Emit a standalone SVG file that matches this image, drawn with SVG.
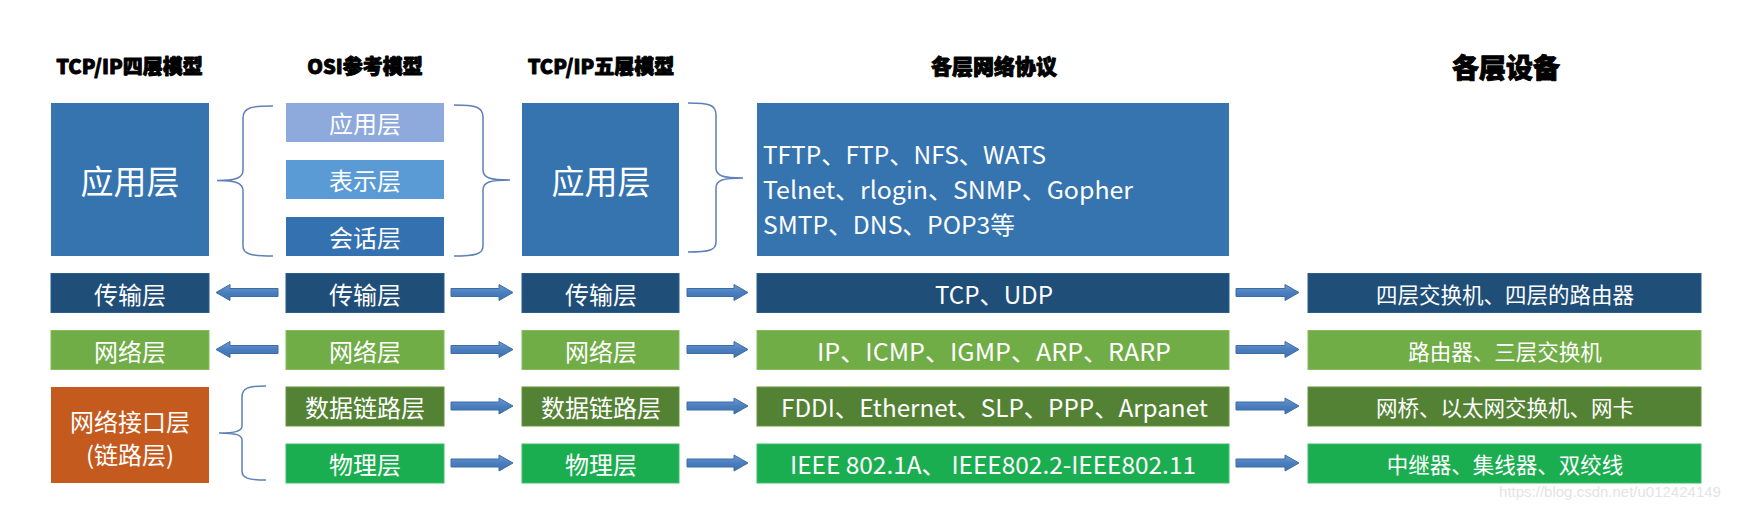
<svg xmlns="http://www.w3.org/2000/svg" width="1746" height="522" viewBox="0 0 1746 522">
<defs>
<linearGradient id="ag" x1="0" y1="0" x2="0" y2="1">
<stop offset="0" stop-color="#6D9BD2"/>
<stop offset="0.5" stop-color="#4A7EBE"/>
<stop offset="1" stop-color="#3F71AE"/>
</linearGradient>
<style>
.hd{font-family:"Noto Sans CJK SC","DejaVu Sans",sans-serif;font-weight:900;fill:#000;stroke:#000;stroke-width:0.9;stroke-linejoin:round;text-anchor:middle;dominant-baseline:central}
.t{font-family:"Noto Sans CJK SC","Noto Sans",sans-serif;fill:#fff;text-anchor:middle;dominant-baseline:central}
.tl{font-family:"Noto Sans CJK SC","Noto Sans",sans-serif;fill:#fff;dominant-baseline:central;font-size:24px}
.s24{font-size:24px}
.s33{font-size:33px}
.s22{font-size:21.5px}
.app{fill:#3674B0}
.osi1{fill:#8EA9DB}
.osi2{fill:#5B9BD5}
.osi3{fill:#3371B0}
.tr{fill:#1F4E79;stroke:#2B5C8A;stroke-width:1}
.nw{fill:#70AD47;stroke:#84BD5E;stroke-width:1}
.dl{fill:#548235;stroke:#66943F;stroke-width:1}
.ph{fill:#1BAE50;stroke:#3EBE6A;stroke-width:1}
.ni{fill:#C55A1E}
.arr{fill:url(#ag);stroke:#3E6DA6;stroke-width:1}
.br{fill:none;stroke:#5E7FB8;stroke-width:1.5}
</style>
</defs>
<rect width="1746" height="522" fill="#fff"/>

<g id="headers">
<text class="hd" x="129.5" y="65" font-size="20">TCP/IP四层模型</text>
<text class="hd" x="365" y="65" font-size="20">OSI参考模型</text>
<text class="hd" x="601" y="65" font-size="20">TCP/IP五层模型</text>
<text class="hd" x="994" y="65" font-size="21">各层网络协议</text>
<text class="hd" x="1506" y="66" font-size="27">各层设备</text>
</g>

<g id="tcp4-app"><rect class="app" x="51" y="103" width="158" height="153"/><text class="t s33" x="130" y="180">应用层</text></g>
<g id="tcp4-transport"><rect class="tr" x="51" y="273.5" width="158" height="39"/><text class="t s24" x="130" y="293">传输层</text></g>
<g id="tcp4-network"><rect class="nw" x="51" y="330.5" width="158" height="39"/><text class="t s24" x="130" y="350">网络层</text></g>
<g id="tcp4-netif"><rect class="ni" x="51" y="387" width="158" height="96"/><text class="t s24" x="130" y="420">网络接口层</text><text class="t s24" x="130" y="453">(链路层)</text></g>

<g id="osi-app"><rect class="osi1" x="286" y="103" width="158" height="39"/><text class="t s24" x="365" y="122.5">应用层</text></g>
<g id="osi-pres"><rect class="osi2" x="286" y="160" width="158" height="39"/><text class="t s24" x="365" y="179.5">表示层</text></g>
<g id="osi-sess"><rect class="osi3" x="286" y="217" width="158" height="39"/><text class="t s24" x="365" y="236.5">会话层</text></g>
<g id="osi-transport"><rect class="tr" x="286" y="273.5" width="158" height="39"/><text class="t s24" x="365" y="293">传输层</text></g>
<g id="osi-network"><rect class="nw" x="286" y="330.5" width="158" height="39"/><text class="t s24" x="365" y="350">网络层</text></g>
<g id="osi-datalink"><rect class="dl" x="286" y="387" width="158" height="39"/><text class="t s24" x="365" y="406.5">数据链路层</text></g>
<g id="osi-physical"><rect class="ph" x="286" y="444" width="158" height="39"/><text class="t s24" x="365" y="463.5">物理层</text></g>

<g id="tcp5-app"><rect class="app" x="522" y="103" width="157" height="153"/><text class="t s33" x="601" y="180">应用层</text></g>
<g id="tcp5-transport"><rect class="tr" x="522" y="273.5" width="157" height="39"/><text class="t s24" x="601" y="293">传输层</text></g>
<g id="tcp5-network"><rect class="nw" x="522" y="330.5" width="157" height="39"/><text class="t s24" x="601" y="350">网络层</text></g>
<g id="tcp5-datalink"><rect class="dl" x="522" y="387" width="157" height="39"/><text class="t s24" x="601" y="406.5">数据链路层</text></g>
<g id="tcp5-physical"><rect class="ph" x="522" y="444" width="157" height="39"/><text class="t s24" x="601" y="463.5">物理层</text></g>

<g id="proto-app"><rect class="app" x="757" y="103" width="472" height="153"/>
<text class="tl" x="763" y="153" textLength="283" lengthAdjust="spacingAndGlyphs">TFTP、FTP、NFS、WATS</text>
<text class="tl" x="763" y="188" textLength="370" lengthAdjust="spacingAndGlyphs">Telnet、rlogin、SNMP、Gopher</text>
<text class="tl" x="763" y="223" textLength="252" lengthAdjust="spacingAndGlyphs">SMTP、DNS、POP3等</text>
</g>
<g id="proto-transport"><rect class="tr" x="757" y="273.5" width="472" height="39"/><text class="t s24" x="994" y="293" textLength="118" lengthAdjust="spacingAndGlyphs">TCP、UDP</text></g>
<g id="proto-network"><rect class="nw" x="757" y="330.5" width="472" height="39"/><text class="t s24" x="994" y="350" textLength="354" lengthAdjust="spacingAndGlyphs">IP、ICMP、IGMP、ARP、RARP</text></g>
<g id="proto-datalink"><rect class="dl" x="757" y="387" width="472" height="39"/><text class="t s24" x="994.5" y="406.5" textLength="427" lengthAdjust="spacingAndGlyphs">FDDI、Ethernet、SLP、PPP、Arpanet</text></g>
<g id="proto-physical"><rect class="ph" x="757" y="444" width="472" height="39"/><text class="t s24" x="993" y="463.5" textLength="406" lengthAdjust="spacingAndGlyphs">IEEE 802.1A、 IEEE802.2-IEEE802.11</text></g>

<g id="dev-transport"><rect class="tr" x="1308" y="273.5" width="393" height="39"/><text class="t s22" x="1505" y="293">四层交换机、四层的路由器</text></g>
<g id="dev-network"><rect class="nw" x="1308" y="330.5" width="393" height="39"/><text class="t s22" x="1505" y="350">路由器、三层交换机</text></g>
<g id="dev-datalink"><rect class="dl" x="1308" y="387" width="393" height="39"/><text class="t s22" x="1505" y="406.5">网桥、以太网交换机、网卡</text></g>
<g id="dev-physical"><rect class="ph" x="1308" y="444" width="393" height="39"/><text class="t s22" x="1505" y="463.5">中继器、集线器、双绞线</text></g>

<g id="connectors">
<path class="br" d="M273,106 C250,106 243,108 243,118 L243,170 C243,178 236,180.5 217,180.5 C236,180.5 243,183 243,191 L243,246 C243,254 250,256 273,256"/>
<path class="br" d="M454,105 C476,105 483,107 483,117 L483,170 C483,178 490,180 510,180 C490,180 483,182 483,190 L483,246 C483,254 476,256 454,256"/>
<path class="br" d="M688,103 C710,103 716,105 716,115 L716,168 C716,176 723,178 743,178 C723,178 716,180 716,188 L716,242 C716,250 710,252 688,252"/>
<path class="br" d="M266,386 C248,386 242,388 242,397 L242,426 C242,431 236,433 219,433 C236,433 242,435 242,440 L242,471 C242,478 248,480 266,480"/>

<path class="arr" d="M278,288.5 L230,288.5 L230,284.5 L216,292.5 L230,300.5 L230,296.5 L278,296.5 Z"/>
<path class="arr" d="M278,345.5 L230,345.5 L230,341.5 L216,349.5 L230,357.5 L230,353.5 L278,353.5 Z"/>

<path class="arr" d="M451,288.5 L499,288.5 L499,284.5 L513,292.5 L499,300.5 L499,296.5 L451,296.5 Z"/>
<path class="arr" d="M451,345.5 L499,345.5 L499,341.5 L513,349.5 L499,357.5 L499,353.5 L451,353.5 Z"/>
<path class="arr" d="M451,402 L499,402 L499,398 L513,406 L499,414 L499,410 L451,410 Z"/>
<path class="arr" d="M451,459 L499,459 L499,455 L513,463 L499,471 L499,467 L451,467 Z"/>

<path class="arr" d="M687,288.5 L734,288.5 L734,284.5 L748,292.5 L734,300.5 L734,296.5 L687,296.5 Z"/>
<path class="arr" d="M687,345.5 L734,345.5 L734,341.5 L748,349.5 L734,357.5 L734,353.5 L687,353.5 Z"/>
<path class="arr" d="M687,402 L734,402 L734,398 L748,406 L734,414 L734,410 L687,410 Z"/>
<path class="arr" d="M687,459 L734,459 L734,455 L748,463 L734,471 L734,467 L687,467 Z"/>

<path class="arr" d="M1236,288.5 L1285,288.5 L1285,284.5 L1299,292.5 L1285,300.5 L1285,296.5 L1236,296.5 Z"/>
<path class="arr" d="M1236,345.5 L1285,345.5 L1285,341.5 L1299,349.5 L1285,357.5 L1285,353.5 L1236,353.5 Z"/>
<path class="arr" d="M1236,402 L1285,402 L1285,398 L1299,406 L1285,414 L1285,410 L1236,410 Z"/>
<path class="arr" d="M1236,459 L1285,459 L1285,455 L1299,463 L1285,471 L1285,467 L1236,467 Z"/>
</g>

<text x="1610" y="491" font-family="Liberation Sans, sans-serif" font-size="15" fill="#e4e4e4" text-anchor="middle" dominant-baseline="central">https://blog.csdn.net/u012424149</text>
</svg>
